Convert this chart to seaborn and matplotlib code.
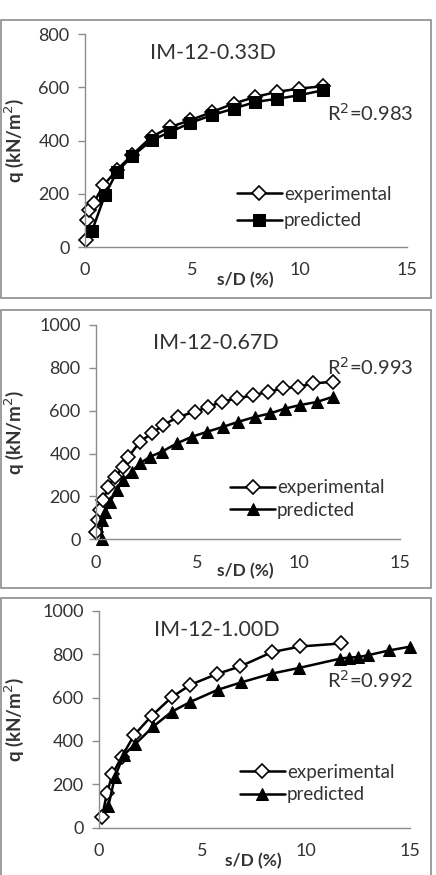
import matplotlib
matplotlib.use("Agg")
import matplotlib.pyplot as plt
from matplotlib.patches import Rectangle
import seaborn as sns

# panel names and fit quality
titles = ["IM-12-0.33D", "IM-12-0.67D", "IM-12-1.00D"]
r2_labels = ["R$^2$=0.983", "R$^2$=0.993", "R$^2$=0.992"]

# IM-12-0.33D
exp1_x = [0.05, 0.1, 0.2, 0.4, 0.86, 1.48, 2.18, 3.1, 3.97, 4.9, 5.9, 6.93, 7.94, 8.96, 9.97, 11.1]
exp1_q = [28, 101, 139, 165, 232, 289, 345, 414, 451, 476, 507, 539, 564, 583, 595, 604]
pred1_x = [0.33, 0.93, 1.48, 2.18, 3.1, 3.97, 4.9, 5.9, 6.93, 7.94, 8.96, 9.97, 11.1]
pred1_q = [62, 195, 282, 340, 401, 432, 466, 495, 520, 545, 557, 570, 589]

# IM-12-0.67D
exp2_x = [0.0, 0.1, 0.2, 0.36, 0.6, 0.94, 1.35, 1.6, 2.17, 2.75, 3.32, 4.06, 4.88, 5.54,
          6.2, 6.94, 7.76, 8.5, 9.24, 9.98, 10.7, 11.7]
exp2_q = [35, 90, 137, 183, 245, 292, 338, 385, 455, 494, 533, 571, 595, 618,
          641, 657, 672, 688, 704, 711, 727, 735]
pred2_x = [0.28, 0.28, 0.44, 0.69, 1.02, 1.35, 1.76, 2.17, 2.66, 3.24, 3.98, 4.72, 5.46,
           6.28, 7.02, 7.84, 8.58, 9.33, 10.06, 10.9, 11.7]
pred2_q = [0, 90, 129, 175, 230, 276, 315, 354, 385, 408, 447, 478, 501,
           525, 548, 571, 587, 610, 626, 641, 665]

# IM-12-1.00D
exp3_x = [0.15, 0.38, 0.65, 1.1, 1.7, 2.55, 3.51, 4.4, 5.69, 6.81, 8.34, 9.71, 11.68]
exp3_q = [51, 159, 247, 328, 428, 517, 602, 659, 709, 744, 810, 836, 850]
pred3_x = [0.45, 0.77, 1.2, 1.74, 2.62, 3.51, 4.4, 5.72, 6.85, 8.34, 9.65, 11.64, 12.05,
           12.5, 12.95, 14.0, 15.0]
pred3_q = [100, 236, 336, 385, 467, 535, 580, 636, 670, 711, 737, 780, 785,
           787, 795, 818, 835]

sns.set_style("white")
plt.rcParams["font.family"] = ["Lato", "DejaVu Sans"]

fig = plt.figure(figsize=(4.36, 8.75), dpi=100)

# outer frames
for b, h in [(0.6594, 0.3177), (0.328, 0.3177), (-0.01, 0.3266)]:
    fig.patches.append(Rectangle((0.002, b), 0.986, h, transform=fig.transFigure,
                                 fill=False, edgecolor="#8c8c8c", lw=1.2))

axes_pos = [(0.195, 0.7177, 0.7385, 0.2434),
            (0.2202, 0.3837, 0.6972, 0.2449),
            (0.2271, 0.0541, 0.7133, 0.2477)]
ymaxes = [800, 1000, 1000]
pred_markers = ["s", "^", "^"]
title_xy = [(0.398, 0.911), (0.395, 0.916), (0.379, 0.912)]
r2_xy = [(0.885, 0.629), (0.901, 0.804), (0.871, 0.682)]
leg_xy = [(0.472, 0.185), (0.441, 0.188), (0.453, 0.204)]
leg_spacing = [0.5, 0.3, 0.28]
ylab_x = [-0.183, -0.23, -0.235]
xlab_xy = [(0.497, -0.117), (0.49, -0.11), (0.495, -0.117)]

data = [(exp1_x, exp1_q, pred1_x, pred1_q),
        (exp2_x, exp2_q, pred2_x, pred2_q),
        (exp3_x, exp3_q, pred3_x, pred3_q)]

txt_col = "#333333"
for i, (ex, eq, px, pq) in enumerate(data):
    ax = fig.add_axes(axes_pos[i])
    sns.lineplot(x=ex, y=eq, ax=ax, color="black", lw=1.8, marker="D", markersize=7.5,
                 markerfacecolor="white", markeredgecolor="black", markeredgewidth=1.2,
                 estimator=None, sort=False, label="experimental", clip_on=False)
    sns.lineplot(x=px, y=pq, ax=ax, color="black", lw=1.8, marker=pred_markers[i],
                 markersize=8.5, markerfacecolor="black", markeredgecolor="black",
                 estimator=None, sort=False, label="predicted", clip_on=False)
    ax.set_xlim(0, 15)
    ax.set_ylim(0, ymaxes[i])
    ax.set_xticks([0, 5, 10, 15])
    ax.set_yticks(range(0, ymaxes[i] + 1, 200))
    for s in ["top", "right"]:
        ax.spines[s].set_visible(False)
    for s in ["left", "bottom"]:
        ax.spines[s].set_color("#8c8c8c")
        ax.spines[s].set_linewidth(1.0)
    ax.tick_params(axis="x", direction="in", length=5, width=1, color="#8c8c8c",
                   labelsize=13, labelcolor=txt_col, pad=11)
    ax.tick_params(axis="y", direction="out", length=5, width=1, color="#8c8c8c",
                   labelsize=13, labelcolor=txt_col, pad=6, left=True)
    ax.set_xlabel("s/D (%)", fontsize=12.5, fontweight="bold", color=txt_col)
    ax.xaxis.set_label_coords(*xlab_xy[i])
    ax.set_ylabel("q (kN/m$^2$)", fontsize=13.5, fontweight="bold", color=txt_col)
    ax.yaxis.set_label_coords(ylab_x[i], 0.5)
    ax.text(*title_xy[i], titles[i], transform=ax.transAxes, ha="center", va="center",
            fontsize=15.5, color=txt_col)
    ax.text(*r2_xy[i], r2_labels[i], transform=ax.transAxes, ha="center", va="center",
            fontsize=14.5, color=txt_col)
    ax.legend(loc="center left", bbox_to_anchor=leg_xy[i], frameon=False, fontsize=13.5,
              handlelength=2.4, handletextpad=0.1, borderpad=0, borderaxespad=0,
              labelspacing=leg_spacing[i], labelcolor=txt_col)

fig.savefig("out.png", dpi=100)
